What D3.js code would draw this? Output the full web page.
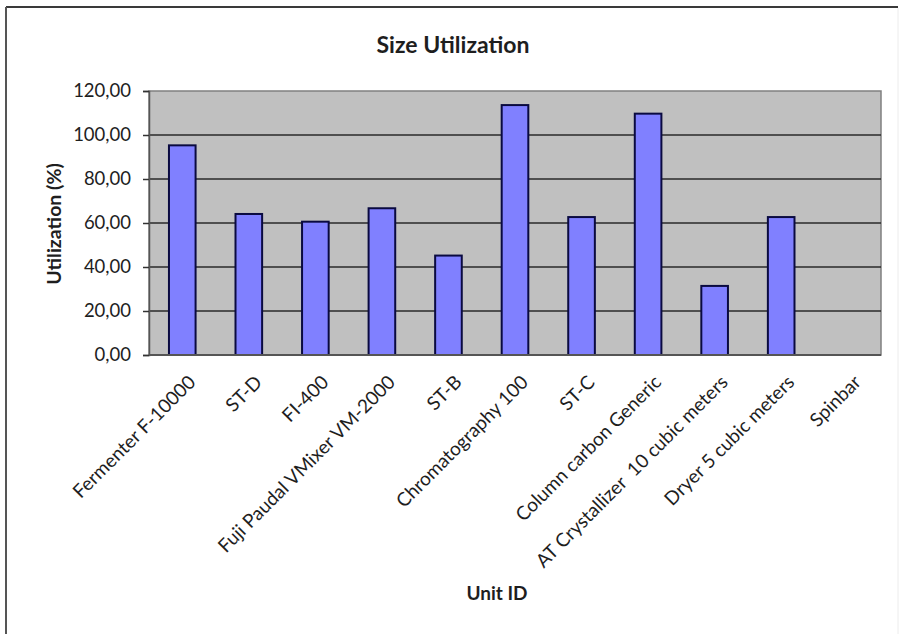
<!DOCTYPE html>
<html>
<head>
<meta charset="utf-8">
<script src="https://cdn.jsdelivr.net/npm/d3@7"></script>
<style>
  html, body { margin: 0; padding: 0; background: #ffffff; }
  svg { display: block; }
  text { font-family: Lato, "Open Sans", sans-serif; fill: #1e1e1e; }
</style>
</head>
<body>
<svg id="chart" width="902" height="634"></svg>
<script>
// Unit names along the category axis
const categories = [
  "Fermenter F-10000",
  "ST-D",
  "FI-400",
  "Fuji Paudal VMixer VM-2000",
  "ST-B",
  "Chromatography 100",
  "ST-C",
  "Column carbon Generic",
  "AT Crystallizer  10 cubic meters",
  "Dryer 5 cubic meters",
  "Spinbar"
];

// Size utilization per unit (%)
const utilization = [95.3, 64.1, 60.6, 66.7, 45.2, 113.6, 62.7, 109.7, 31.4, 62.7, 0];

// Value axis ticks
const yTicks = [0, 20, 40, 60, 80, 100, 120];

const chartTitle = "Size Utilization";
const xTitle = "Unit ID";
const yTitle = "Utilization (%)";

const svg = d3.select("#chart");
const W = 902, H = 634;
const plot = { left: 149, right: 881, top: 91, bottom: 355 };

// Outer chart frame (top and left edges dark, right edge faint)
svg.append("line").attr("x1", 6).attr("x2", 898).attr("y1", 7).attr("y2", 7)
  .attr("stroke", "#3a3a3a").attr("stroke-width", 2);
svg.append("line").attr("x1", 6).attr("x2", 6).attr("y1", 7).attr("y2", H)
  .attr("stroke", "#555555").attr("stroke-width", 2);
svg.append("line").attr("x1", 898).attr("x2", 898).attr("y1", 8).attr("y2", H)
  .attr("stroke", "#ececec").attr("stroke-width", 1);

const x = d3.scaleBand()
  .domain(categories)
  .range([plot.left, plot.right])
  .paddingInner(0.6)
  .paddingOuter(0.3);

const y = d3.scaleLinear()
  .domain([0, 120])
  .range([plot.bottom, plot.top]);

const fmt = v => d3.format(".2f")(v).replace(".", ",");

// Plot area
svg.append("rect")
  .attr("x", plot.left).attr("y", plot.top)
  .attr("width", plot.right - plot.left).attr("height", plot.bottom - plot.top)
  .attr("fill", "#c0c0c0")
  .attr("stroke", "#808080").attr("stroke-width", 1.5);

// Horizontal gridlines
svg.append("g")
  .selectAll("line")
  .data(yTicks.filter(t => t > 0 && t < 120))
  .join("line")
  .attr("x1", plot.left).attr("x2", plot.right)
  .attr("y1", d => y(d)).attr("y2", d => y(d))
  .attr("stroke", "#2a2a2a").attr("stroke-width", 1.5);

// Bars
svg.append("g")
  .selectAll("rect")
  .data(categories.map((c, i) => ({ c, v: utilization[i] })).filter(d => d.v > 0))
  .join("rect")
  .attr("x", d => x(d.c))
  .attr("y", d => y(d.v))
  .attr("width", x.bandwidth())
  .attr("height", d => y(0) - y(d.v))
  .attr("fill", "#8080ff")
  .attr("stroke", "#0a0a40")
  .attr("stroke-width", 2);

// Value axis
const yAxis = svg.append("g")
  .attr("transform", `translate(${plot.left},0)`)
  .call(d3.axisLeft(y).tickValues(yTicks).tickFormat(fmt).tickSize(6).tickPadding(12));
yAxis.select(".domain").attr("stroke", "#555555").attr("stroke-width", 1.5);
yAxis.selectAll(".tick line").attr("stroke", "#333333").attr("stroke-width", 1.5);
yAxis.selectAll(".tick text")
  .attr("font-size", 18.5).attr("font-family", "Lato, sans-serif").attr("fill", "#1e1e1e");

// Category axis line
svg.append("line")
  .attr("x1", plot.left).attr("x2", plot.right)
  .attr("y1", plot.bottom).attr("y2", plot.bottom)
  .attr("stroke", "#555555").attr("stroke-width", 2);

// Rotated category labels
svg.append("g")
  .selectAll("text")
  .data(categories)
  .join("text")
  .attr("transform", d => `translate(${x(d) + x.bandwidth() / 2 + 5},374) rotate(-45)`)
  .attr("text-anchor", "end")
  .attr("dy", "0.7em")
  .attr("font-size", 19)
  .attr("xml:space", "preserve")
  .style("white-space", "pre")
  .text(d => d);

// Titles
svg.append("text")
  .attr("x", 453).attr("y", 53)
  .attr("text-anchor", "middle")
  .attr("font-size", 23).attr("font-weight", "bold")
  .text(chartTitle);

svg.append("text")
  .attr("transform", "translate(61,224) rotate(-90)")
  .attr("text-anchor", "middle")
  .attr("font-size", 19.5).attr("font-weight", "bold")
  .text(yTitle);

svg.append("text")
  .attr("x", 497).attr("y", 600)
  .attr("text-anchor", "middle")
  .attr("font-size", 19).attr("font-weight", "bold")
  .text(xTitle);
</script>
</body>
</html>
